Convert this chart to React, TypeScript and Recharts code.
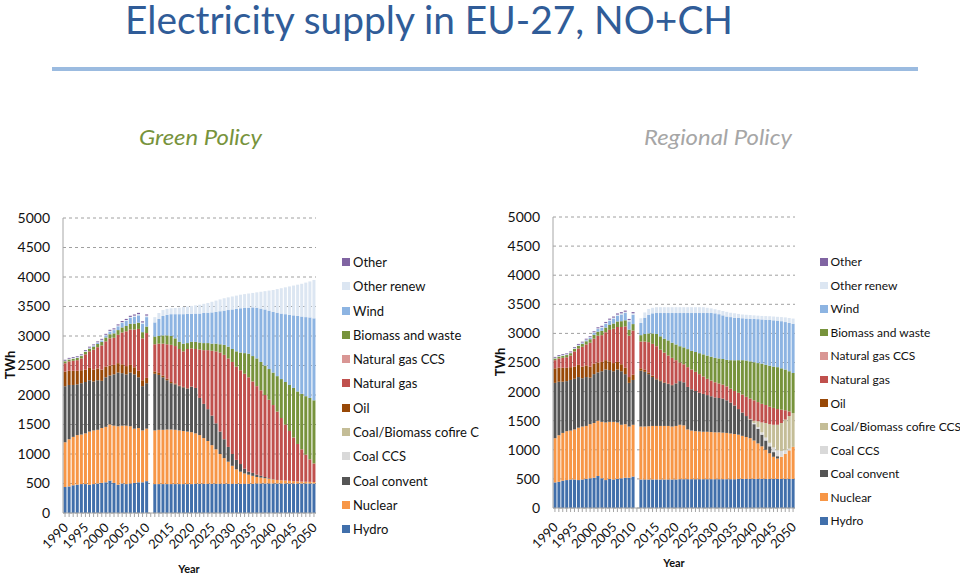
import React from "react";
import { BarChart, Bar, XAxis, YAxis, CartesianGrid, Legend } from "recharts";

const FONT = "Lato, 'Noto Sans', sans-serif";

// ---------- categories & ticks ----------
const categories = [
  "1990", "1991", "1992", "1993", "1994", "1995", "1996", "1997", "1998", "1999", "2000",
  "2001", "2002", "2003", "2004", "2005", "2006", "2007", "2008", "2009", "2010",
  "",
  "2011", "2012", "2013", "2014", "2015", "2016", "2017", "2018", "2019", "2020",
  "2021", "2022", "2023", "2024", "2025", "2026", "2027", "2028", "2029", "2030",
  "2031", "2032", "2033", "2034", "2035", "2036", "2037", "2038", "2039", "2040",
  "2041", "2042", "2043", "2044", "2045", "2046", "2047", "2048", "2049", "2050",
];
const xTickLabels = ["1990", "1995", "2000", "2005", "2010", "2015", "2020", "2025", "2030", "2035", "2040", "2045", "2050"];
const yTicks = [0, 500, 1000, 1500, 2000, 2500, 3000, 3500, 4000, 4500, 5000];

// ---------- series (stack order, bottom to top) ----------
const seriesDefs = [
  { key: "hydro", name: "Hydro", color: "#416FAB" },
  { key: "nuclear", name: "Nuclear", color: "#F79646" },
  { key: "coal", name: "Coal convent", color: "#555555" },
  { key: "coalCcs", name: "Coal CCS", color: "#D9D9D9" },
  { key: "cofire", name: "Coal/Biomass cofire CCS", color: "#C4BD97" },
  { key: "oil", name: "Oil", color: "#984807" },
  { key: "gas", name: "Natural gas", color: "#C0504D" },
  { key: "gasCcs", name: "Natural gas CCS", color: "#D99694" },
  { key: "biomass", name: "Biomass and waste", color: "#77933C" },
  { key: "wind", name: "Wind", color: "#8DB4E2" },
  { key: "otherRenew", name: "Other renew", color: "#DCE6F2" },
  { key: "other", name: "Other", color: "#8064A2" },
];

// ---------- historical 1990-2010 (TWh) ----------
const histZero = [0, 0, 0, 0, 0, 0, 0, 0, 0, 0, 0, 0, 0, 0, 0, 0, 0, 0, 0, 0, 0];
const histHydro = [440, 450, 470, 480, 490, 490, 480, 490, 500, 510, 520, 550, 510, 480, 500, 490, 500, 510, 520, 520, 540];
const histNuclear = [760, 800, 820, 840, 840, 860, 900, 910, 910, 930, 940, 950, 970, 990, 980, 990, 970, 920, 920, 880, 890];
const histCoal = [950, 920, 880, 860, 870, 870, 870, 830, 840, 800, 840, 830, 870, 910, 890, 870, 910, 920, 860, 750, 770];
const histOil = [250, 240, 240, 230, 220, 210, 210, 200, 200, 190, 180, 170, 160, 160, 150, 140, 130, 120, 110, 100, 90];
const histGas = [140, 160, 170, 180, 200, 260, 280, 340, 360, 410, 430, 460, 460, 480, 540, 590, 600, 640, 710, 710, 760];
const histBiomass = [30, 32, 35, 38, 40, 42, 45, 50, 55, 60, 65, 70, 75, 80, 85, 90, 95, 100, 105, 105, 110];
const histWind = [1, 2, 3, 4, 5, 6, 8, 12, 18, 25, 35, 45, 55, 65, 75, 85, 100, 115, 125, 140, 160];
const histOtherRenew = [10, 10, 10, 10, 10, 10, 10, 10, 10, 10, 10, 12, 12, 14, 15, 16, 18, 20, 22, 24, 26];
const histOther = [15, 15, 15, 15, 15, 15, 16, 16, 16, 17, 17, 18, 18, 18, 19, 19, 20, 20, 20, 20, 20];

// ---------- projections 2011-2050 (TWh) ----------
const projZero = [
  0, 0, 0, 0, 0, 0, 0, 0, 0, 0, 0, 0, 0, 0, 0, 0, 0, 0, 0, 0,
  0, 0, 0, 0, 0, 0, 0, 0, 0, 0, 0, 0, 0, 0, 0, 0, 0, 0, 0, 0,
];
const projHydro = [
  490, 490, 490, 490, 490, 490, 490, 490, 490, 490, 495, 495, 495, 495, 495, 495, 495, 495, 495, 495,
  495, 495, 495, 495, 495, 500, 500, 500, 500, 500, 500, 500, 500, 500, 500, 500, 500, 500, 500, 500,
];
const projOil = [
  40, 35, 30, 25, 20, 15, 10, 8, 5, 3, 0, 0, 0, 0, 0, 0, 0, 0, 0, 0,
  0, 0, 0, 0, 0, 0, 0, 0, 0, 0, 0, 0, 0, 0, 0, 0, 0, 0, 0, 0,
];

// Green Policy
const greenNuclear = [
  910, 920, 920, 925, 925, 920, 910, 900, 890, 880, 855, 825, 775, 725, 655, 585, 505, 435, 375, 305,
  245, 205, 175, 155, 135, 110, 100, 90, 80, 70, 60, 55, 50, 45, 40, 35, 32, 30, 28, 25,
];
const greenCoal = [
  960, 930, 890, 835, 785, 770, 750, 740, 730, 770, 770, 630, 580, 540, 500, 440, 380, 320, 250, 200,
  160, 130, 80, 50, 50, 40, 30, 20, 10, 5, 0, 0, 0, 0, 0, 0, 0, 0, 0, 0,
];
const greenGas = [
  460, 495, 540, 585, 630, 635, 620, 602, 665, 647, 660, 820, 910, 1000, 1100, 1220, 1340, 1430, 1500, 1560,
  1580, 1590, 1610, 1600, 1550, 1500, 1450, 1390, 1330, 1255, 1160, 1055, 950, 845, 740, 635, 548, 460, 382, 315,
];
const greenBiomass = [
  130, 130, 140, 150, 150, 130, 120, 130, 100, 110, 120, 120, 120, 120, 120, 130, 140, 170, 200, 220,
  260, 300, 350, 400, 430, 470, 480, 500, 520, 550, 600, 660, 720, 780, 840, 890, 940, 990, 1040, 1070,
];
const greenWind = [
  240, 290, 330, 350, 370, 410, 470, 500, 495, 475, 480, 490, 510, 515, 530, 540, 560, 580, 620, 670,
  720, 750, 765, 780, 825, 860, 905, 950, 990, 1030, 1075, 1110, 1150, 1190, 1230, 1280, 1310, 1340, 1365, 1390,
];
const greenOtherRenew = [
  90, 100, 100, 100, 100, 105, 110, 120, 125, 135, 140, 150, 155, 165, 180, 190, 200, 210, 215, 220,
  225, 230, 235, 240, 245, 260, 285, 310, 340, 370, 400, 430, 455, 480, 505, 530, 555, 585, 610, 650,
];

// Regional Policy
const regNuclear = [
  910, 910, 915, 920, 920, 920, 920, 920, 910, 920, 935, 925, 855, 835, 825, 820, 815, 815, 810, 805,
  805, 800, 795, 785, 775, 760, 740, 720, 700, 660, 610, 560, 500, 440, 380, 350, 380, 430, 490, 550,
];
const regCoal = [
  960, 940, 895, 840, 800, 770, 740, 720, 710, 730, 750, 740, 730, 710, 690, 665, 650, 630, 615, 600,
  590, 585, 560, 530, 490, 440, 400, 360, 320, 280, 250, 200, 160, 120, 80, 40, 0, 0, 0, 0,
];
const regCoalCcs = [
  0, 0, 0, 0, 0, 0, 0, 0, 0, 0, 0, 0, 0, 0, 0, 0, 0, 0, 0, 0,
  0, 0, 0, 0, 0, 0, 0, 0, 0, 20, 30, 40, 50, 60, 80, 100, 100, 60, 30, 0,
];
const regCofire = [
  0, 0, 0, 0, 0, 0, 0, 0, 0, 0, 0, 0, 0, 0, 0, 0, 0, 0, 0, 0,
  0, 0, 0, 0, 0, 0, 0, 0, 10, 40, 100, 170, 250, 320, 390, 440, 480, 530, 560, 580,
];
const regGas = [
  460, 485, 520, 545, 550, 525, 510, 482, 465, 397, 320, 310, 340, 340, 330, 320, 300, 280, 270, 260,
  250, 240, 240, 240, 250, 280, 310, 330, 350, 350, 330, 320, 310, 300, 290, 270, 230, 160, 80, 0,
];
const regBiomass = [
  110, 130, 150, 180, 210, 230, 240, 260, 260, 270, 280, 290, 310, 320, 340, 360, 380, 400, 410, 420,
  430, 440, 455, 490, 530, 560, 590, 625, 640, 655, 670, 690, 690, 705, 710, 720, 710, 700, 690, 690,
];
const regWind = [
  210, 280, 320, 345, 360, 400, 440, 470, 510, 540, 570, 590, 620, 650, 670, 690, 710, 730, 750, 765,
  760, 750, 745, 740, 730, 725, 720, 720, 730, 745, 755, 760, 775, 785, 795, 800, 810, 815, 830, 845,
];
const regOtherRenew = [
  80, 90, 100, 95, 100, 100, 100, 100, 100, 100, 100, 100, 100, 100, 100, 100, 100, 90, 80, 70,
  70, 75, 80, 75, 75, 70, 65, 65, 65, 60, 60, 60, 63, 65, 65, 65, 70, 80, 85, 90,
];

const histSet: Record<string, number[]> = {
  hydro: histHydro, nuclear: histNuclear, coal: histCoal, coalCcs: histZero, cofire: histZero,
  oil: histOil, gas: histGas, gasCcs: histZero, biomass: histBiomass, wind: histWind,
  otherRenew: histOtherRenew, other: histOther,
};
const greenSet: Record<string, number[]> = {
  hydro: projHydro, nuclear: greenNuclear, coal: greenCoal, coalCcs: projZero, cofire: projZero,
  oil: projOil, gas: greenGas, gasCcs: projZero, biomass: greenBiomass, wind: greenWind,
  otherRenew: greenOtherRenew, other: projZero,
};
const regionalSet: Record<string, number[]> = {
  hydro: projHydro, nuclear: regNuclear, coal: regCoal, coalCcs: regCoalCcs, cofire: regCofire,
  oil: projOil, gas: regGas, gasCcs: projZero, biomass: regBiomass, wind: regWind,
  otherRenew: regOtherRenew, other: projZero,
};

function buildRows(proj: Record<string, number[]>) {
  return categories.map((year, i) => {
    const row: Record<string, any> = { year };
    seriesDefs.forEach((s) => {
      const h = histSet[s.key];
      if (i < h.length) row[s.key] = h[i];
      else if (i === h.length) row[s.key] = null;
      else row[s.key] = proj[s.key][i - h.length - 1];
    });
    return row;
  });
}

const greenRows = buildRows(greenSet);
const regionalRows = buildRows(regionalSet);

const order = seriesDefs.map((s) => s.key);

function makeLegend(rowH: number, width: number, fontSize: number, sq: number) {
  return (props: any) => {
    const items = [...(props.payload || [])].sort(
      (a: any, b: any) => order.indexOf(b.dataKey) - order.indexOf(a.dataKey)
    );
    return (
      <div style={{ width, overflow: "hidden", fontFamily: FONT, fontSize, color: "#111" }}>
        {items.map((it: any) => (
          <div
            key={it.dataKey}
            style={{ height: rowH, display: "flex", alignItems: "center", whiteSpace: "nowrap" }}
          >
            <span
              style={{ display: "inline-block", width: sq, height: sq, background: it.color, marginRight: 3, flex: "none" }}
            />
            <span>{it.value}</span>
          </div>
        ))}
      </div>
    );
  };
}

function makeXTick(dx: number, dy: number) {
  return (props: any) => {
    const { x, y, payload } = props;
    if (!xTickLabels.includes(payload.value)) return <g />;
    const ax = x + dx;
    const ay = y + dy;
    return (
      <text
        x={ax}
        y={ay}
        transform={`rotate(-45 ${ax} ${ay})`}
        textAnchor="end"
        fontSize={13}
        fontFamily={FONT}
        fill="#111"
      >
        {payload.value}
      </text>
    );
  };
}

type ChartProps = {
  rows: any[];
  left: number;
  margin: { top: number; right: number; left: number; bottom: number };
  yAxisWidth: number;
  xAxisHeight: number;
  xdy: number;
  legend: { left: number; top: number; rowH: number; width: number; fontSize: number; sq: number };
};

function SupplyChart({ rows, left, margin, yAxisWidth, xAxisHeight, xdy, legend }: ChartProps) {
  return (
    <div style={{ position: "absolute", left, top: 200 }}>
      <BarChart width={480} height={375} data={rows} margin={margin} barCategoryGap="13%">
        <CartesianGrid vertical={false} stroke="#A0A0A0" strokeDasharray="3 3" />
        <XAxis
          dataKey="year"
          interval={0}
          tickSize={4}
          tickMargin={2}
          height={xAxisHeight}
          axisLine={{ stroke: "#A6A6A6" }}
          tickLine={{ stroke: "#A6A6A6" }}
          tick={makeXTick(4, xdy)}
        />
        <YAxis
          type="number"
          domain={[0, 5000]}
          ticks={yTicks}
          interval={0}
          width={yAxisWidth}
          tickSize={0}
          tickMargin={13}
          tickLine={false}
          axisLine={{ stroke: "#A6A6A6" }}
          tick={{ fill: "#111", fontSize: 14, fontFamily: FONT }}
        />
        <Legend
          layout="vertical"
          align="center"
          verticalAlign="middle"
          wrapperStyle={{ left: legend.left, top: legend.top, width: legend.width }}
          content={makeLegend(legend.rowH, legend.width, legend.fontSize, legend.sq)}
        />
        {seriesDefs.map((s) => (
          <Bar key={s.key} dataKey={s.key} name={s.name} stackId="a" fill={s.color} isAnimationActive={false} />
        ))}
      </BarChart>
    </div>
  );
}

export default function App() {
  return (
    <div
      style={{
        position: "absolute",
        left: 0,
        top: 0,
        width: 960,
        height: 575,
        background: "#fff",
        overflow: "hidden",
        fontFamily: FONT,
      }}
    >
      <svg width={960} height={575} style={{ position: "absolute", left: 0, top: 0 }}>
        <text x={125} y={34} fontSize={39} fill="#305C98" fontFamily={FONT} textLength={608} lengthAdjust="spacingAndGlyphs">
          Electricity supply in EU-27, NO+CH
        </text>
        <rect x={52} y={67} width={866} height={4} fill="#9BBBE0" />
        <text x={139} y={145} fontSize={22} fontStyle="italic" fill="#77933C" fontFamily={FONT} textLength={123} lengthAdjust="spacingAndGlyphs">
          Green Policy
        </text>
        <text x={644} y={145} fontSize={22} fontStyle="italic" fill="#A6A6A6" fontFamily={FONT} textLength={148} lengthAdjust="spacingAndGlyphs">
          Regional Policy
        </text>
        <text x={10} y={365} transform="rotate(-90 10 365)" textAnchor="middle" dominantBaseline="central" fontSize={13} fontWeight="bold" fill="#111" fontFamily={FONT}>
          TWh
        </text>
        <text x={500} y={362} transform="rotate(-90 500 362)" textAnchor="middle" dominantBaseline="central" fontSize={13} fontWeight="bold" fill="#111" fontFamily={FONT}>
          TWh
        </text>
        <text x={189} y={568} textAnchor="middle" dominantBaseline="central" fontSize={11} fontWeight="bold" fill="#111" fontFamily={FONT}>
          Year
        </text>
        <text x={674} y={562} textAnchor="middle" dominantBaseline="central" fontSize={11} fontWeight="bold" fill="#111" fontFamily={FONT}>
          Year
        </text>
      </svg>
      <SupplyChart
        rows={greenRows}
        left={0}
        margin={{ top: 18, right: 164, left: 0, bottom: 12 }}
        yAxisWidth={63}
        xAxisHeight={50}
        xdy={9.5}
        legend={{ left: 342, top: 50, rowH: 24.27, width: 137, fontSize: 13, sq: 8 }}
      />
      <SupplyChart
        rows={regionalRows}
        left={480}
        margin={{ top: 17, right: 165, left: 0, bottom: 12 }}
        yAxisWidth={73}
        xAxisHeight={55}
        xdy={14}
        legend={{ left: 340, top: 50, rowH: 23.55, width: 140, fontSize: 12, sq: 7.5 }}
      />
    </div>
  );
}
